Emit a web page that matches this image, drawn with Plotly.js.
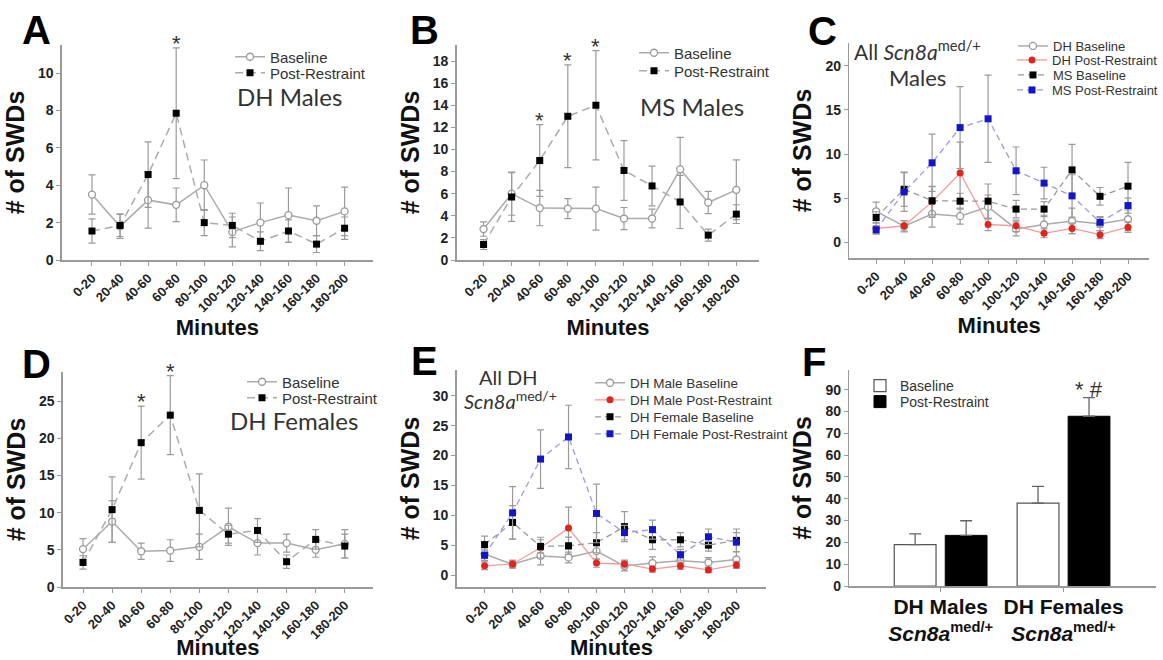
<!DOCTYPE html>
<html><head><meta charset="utf-8">
<script src="https://cdn.plot.ly/plotly-3.0.1.min.js"></script>
<style>body{margin:0;background:#fff}#chart{width:1163px;height:660px}</style>
</head><body><div id="chart"></div>
<script>
// ---------- DATA ----------
const cats = ['0-20','20-40','40-60','60-80','80-100','100-120','120-140','140-160','160-180','180-200'];

// A: DH Males
const dhMaleBase    = [3.5, 1.8, 3.2, 2.95, 4.0, 1.5, 2.0, 2.4, 2.1, 2.6];
const dhMaleBaseErr = [1.05, 0.65, 1.5, 0.9, 1.35, 0.8, 1.05, 1.45, 0.8, 1.3];
const dhMalePost    = [1.55, 1.85, 4.57, 7.85, 2.0, 1.85, 1.0, 1.55, 0.85, 1.7];
const dhMalePostErr = [0.65, 0.6, 1.75, 3.5, 0.7, 0.65, 0.5, 0.6, 0.45, 0.6];

// B: MS Males
const msMaleBase    = [2.8, 6.0, 4.7, 4.65, 4.65, 3.75, 3.75, 8.2, 5.2, 6.35];
const msMaleBaseErr = [0.65, 1.95, 1.6, 0.9, 1.95, 1.0, 0.85, 2.9, 1.0, 2.7];
const msMalePost    = [1.4, 5.7, 9.0, 13.0, 14.0, 8.1, 6.7, 5.25, 2.25, 4.15];
const msMalePostErr = [0.45, 2.2, 3.25, 4.65, 4.95, 2.7, 1.8, 2.4, 0.55, 0.85];

// D: DH Females
const dhFemBase    = [5.1, 8.8, 4.8, 4.9, 5.4, 8.1, 5.9, 5.9, 5.0, 5.8];
const dhFemBaseErr = [1.4, 2.8, 1.1, 1.45, 1.7, 2.5, 1.6, 1.2, 1.0, 1.9];
const dhFemPost    = [3.3, 10.4, 19.4, 23.1, 10.3, 7.1, 7.6, 3.4, 6.4, 5.5];
const dhFemPostErr = [0.9, 4.4, 4.9, 5.3, 4.9, 1.2, 1.6, 0.9, 1.3, 1.6];

// F: totals
const groups   = ['DH Males', 'DH Females'];
const totBase    = [19.0, 38.0];
const totBaseErr = [4.9, 7.7];
const totPost    = [23.2, 77.8];
const totPostErr = [6.7, 8.5];

// significance markers (category index)
const starsA = [3];
const starsB = [2, 3, 4];
const starsD = [2, 3];

// ---------- LAYOUT HELPERS ----------
const W = 1163, H = 660;
const xd = (l, r) => [l / W, r / W];
const yd = (t, b) => [1 - b / H, 1 - t / H];
const px = v => v / W, py = v => 1 - v / H;

const AX = '#9a9a9a';
const tickFont = {family: 'Liberation Sans, Arial, sans-serif', size: 13, color: '#222', weight: 'bold'};
const titleFont = {family: 'Liberation Sans, Arial, sans-serif', size: 22, color: '#111', weight: 'bold'};
const yTitleFont = {family: 'Liberation Sans, Arial, sans-serif', size: 25, color: '#111', weight: 'bold'};

function xAxisCat(dom, range, anchor) {
  return {domain: dom, range: range, anchor: anchor, type: 'linear',
    tickvals: cats.map((c, i) => i), ticktext: cats, tickangle: -45,
    showline: true, linecolor: AX, linewidth: 1.5, ticks: 'outside', ticklen: 4, tickcolor: AX,
    showgrid: false, zeroline: false, tickfont: tickFont,
    title: {text: 'Minutes', font: titleFont, standoff: 4}};
}
function yAxis(dom, range, dtick, anchor) {
  return {domain: dom, range: range, anchor: anchor, dtick: dtick, tick0: 0,
    showline: true, linecolor: AX, linewidth: 1.5, ticks: 'outside', ticklen: 4, tickcolor: AX,
    showgrid: false, zeroline: false, tickfont: Object.assign({}, tickFont, {size: 14}),
    title: {text: '# of SWDs', font: yTitleFont, standoff: 6}};
}

// ---------- TRACE STYLES ----------
const sBase = {line: {color: '#ababab', width: 1.5}, marker: {symbol: 'circle', size: 7, color: '#fff', line: {color: '#999', width: 1.3}}};
const sPost = {line: {color: '#ababab', width: 1.5, dash: '8px,5px'}, marker: {symbol: 'square', size: 7, color: '#000', line: {width: 0}}};
const sRed  = {line: {color: '#f29a9a', width: 1.3}, marker: {symbol: 'circle', size: 7, color: '#e3241c', line: {width: 0}}};
const sBlk  = {line: {color: '#9a9a9a', width: 1.3, dash: '6px,4px'}, marker: {symbol: 'square', size: 7, color: '#000', line: {width: 0}}};
const sBlue = {line: {color: '#9a9ae8', width: 1.3, dash: '6px,4px'}, marker: {symbol: 'square', size: 7, color: '#1414c8', line: {width: 0}}};

function tr(xa, ya, y, err, st, name, leg) {
  return {type: 'scatter', mode: 'lines+markers', xaxis: xa, yaxis: ya,
    x: cats.map((c, i) => i), y: y, name: name, legend: leg,
    line: st.line, marker: st.marker, cliponaxis: false,
    error_y: {type: 'data', array: err, visible: true, color: '#9a9a9a', thickness: 1.2, width: 3.5}};
}

const data = [
  // A
  tr('x', 'y', dhMaleBase, dhMaleBaseErr, sBase, 'Baseline', 'legend'),
  tr('x', 'y', dhMalePost, dhMalePostErr, sPost, 'Post-Restraint', 'legend2'),
  // B
  tr('x2', 'y2', msMaleBase, msMaleBaseErr, sBase, 'Baseline', 'legend3'),
  tr('x2', 'y2', msMalePost, msMalePostErr, sPost, 'Post-Restraint', 'legend4'),
  // C
  tr('x3', 'y3', dhMaleBase, dhMaleBaseErr, sBase, 'DH Baseline', 'legend5'),
  tr('x3', 'y3', dhMalePost, dhMalePostErr, sRed, 'DH Post-Restraint', 'legend6'),
  tr('x3', 'y3', msMaleBase, msMaleBaseErr, sBlk, 'MS Baseline', 'legend7'),
  tr('x3', 'y3', msMalePost, msMalePostErr, sBlue, 'MS Post-Restraint', 'legend8'),
  // D
  tr('x4', 'y4', dhFemBase, dhFemBaseErr, sBase, 'Baseline', 'legend9'),
  tr('x4', 'y4', dhFemPost, dhFemPostErr, sPost, 'Post-Restraint', 'legend10'),
  // E
  tr('x5', 'y5', dhMaleBase, dhMaleBaseErr, sBase, 'DH Male Baseline', 'legend11'),
  tr('x5', 'y5', dhMalePost, dhMalePostErr, sRed, 'DH Male Post-Restraint', 'legend12'),
  tr('x5', 'y5', dhFemBase, dhFemBaseErr, sBlk, 'DH Female Baseline', 'legend13'),
  tr('x5', 'y5', dhFemPost, dhFemPostErr, sBlue, 'DH Female Post-Restraint', 'legend14'),
  // F
  {type: 'bar', xaxis: 'x6', yaxis: 'y6', x: groups.map((g, i) => i), y: totBase, name: 'Baseline', legend: 'legend15',
   width: 0.34, offset: -0.378, marker: {color: '#fff', line: {color: '#555', width: 1.2}},
   error_y: {type: 'data', symmetric: false, array: totBaseErr, arrayminus: totBaseErr.map(() => 0), color: '#666', thickness: 1.3, width: 6}},
  {type: 'bar', xaxis: 'x6', yaxis: 'y6', x: groups.map((g, i) => i), y: totPost, name: 'Post-Restraint', legend: 'legend16',
   width: 0.34, offset: 0.037, marker: {color: '#000', line: {color: '#000', width: 1}},
   error_y: {type: 'data', symmetric: false, array: totPostErr, arrayminus: totPostErr.map(() => 0), color: '#666', thickness: 1.3, width: 6}}
];

// ---------- LEGENDS ----------
function leg(x, yc, size) {
  return {x: px(x), y: py(yc), xanchor: 'left', yanchor: 'middle', bgcolor: 'rgba(0,0,0,0)',
    borderwidth: 0, font: {family: 'Liberation Sans, Arial, sans-serif', size: size, color: '#333'}};
}

// ---------- ANNOTATIONS ----------
const ann = [];
const letterFont = {family: 'Liberation Sans, Arial, sans-serif', size: 40, color: '#000', weight: 'bold'};
[['A', 37, 30], ['B', 425, 30], ['C', 823, 31], ['D', 37, 364], ['E', 425, 361], ['F', 815, 362]].forEach(l => {
  ann.push({text: l[0], xref: 'paper', yref: 'paper', x: px(l[1]), y: py(l[2]), xanchor: 'center', yanchor: 'middle', showarrow: false, font: letterFont});
});
const labFont = {family: 'Lato, Open Sans, sans-serif', size: 24, color: '#333'};
function lab(t, x, y, size) {
  ann.push({text: t, xref: 'paper', yref: 'paper', x: px(x), y: py(y), xanchor: 'center', yanchor: 'middle', showarrow: false,
    font: Object.assign({}, labFont, size ? {size: size} : {})});
}
lab('DH Males', 290, 96);
lab('MS Males', 693, 106);
lab('All <i>Scn8a</i><sup>med/+</sup>', 918, 50, 21);
lab('Males', 918, 78, 22);
lab('DH Females', 294, 420);
lab('All DH', 509, 377, 20);
lab('<i>Scn8a</i><sup>med/+</sup>', 511, 400, 20);

const starFont = {family: 'Liberation Sans, Arial, sans-serif', size: 22, color: '#333'};
function stars(list, mean, err, xr, yr) {
  list.forEach(i => ann.push({text: '*', xref: xr, yref: yr, x: i, y: mean[i] + err[i], xanchor: 'center', yanchor: 'bottom',
    yshift: -10, showarrow: false, font: starFont}));
}
stars(starsA, dhMalePost, dhMalePostErr, 'x', 'y');
stars(starsB, msMalePost, msMalePostErr, 'x2', 'y2');
stars(starsD, dhFemPost, dhFemPostErr, 'x4', 'y4');
ann.push({text: '* #', xref: 'x6', yref: 'y6', x: 1 + 0.037 + 0.17, y: totPost[1] + totPostErr[1], xanchor: 'center', yanchor: 'bottom',
  yshift: -6, showarrow: false, font: starFont});

const layout = {
  width: W, height: H, margin: {l: 0, r: 0, t: 0, b: 0},
  paper_bgcolor: '#fff', plot_bgcolor: 'rgba(0,0,0,0)',
  font: {family: 'Liberation Sans, Arial, sans-serif'},
  showlegend: true, bargap: 0, barmode: 'overlay',
  xaxis: xAxisCat(xd(62, 373), [-1.07, 10.0], 'y'),
  yaxis: yAxis(yd(45, 260), [0, 11.5], 2, 'x'),
  xaxis2: xAxisCat(xd(457, 760), [-0.96, 9.82], 'y2'),
  yaxis2: yAxis(yd(45, 260), [0, 19.45], 2, 'x2'),
  xaxis3: xAxisCat(xd(850, 1150), [-0.96, 9.75], 'y3'),
  yaxis3: yAxis(yd(43, 258), [-1.8, 22.6], 5, 'x3'),
  xaxis4: xAxisCat(xd(63, 373), [-0.69, 9.96], 'y4'),
  yaxis4: yAxis(yd(372, 587), [0, 28.9], 5, 'x4'),
  xaxis5: xAxisCat(xd(457, 767), [-1.0, 10.07], 'y5'),
  yaxis5: yAxis(yd(370, 587), [-2.0, 34.3], 5, 'x5'),
  xaxis6: {domain: xd(850, 1157), range: [-0.744, 1.752], anchor: 'y6', type: 'linear',
    tickvals: groups.map((g, i) => i),
    ticktext: groups.map(g => '<b>' + g + '</b><br><b><i>Scn8a</i><sup>med/+</sup></b>'),
    showline: true, linecolor: AX, linewidth: 1.5, ticks: 'outside', ticklen: 4, tickcolor: AX,
    ticklabelstandoff: -3,
    showgrid: false, zeroline: false, tickfont: {family: 'Liberation Sans, Arial, sans-serif', size: 21, color: '#111'}},
  yaxis6: yAxis(yd(370, 586), [0, 99], 10, 'x6'),
  legend:   leg(230, 57, 15),
  legend2:  leg(230, 73, 15),
  legend3:  leg(634, 53, 15),
  legend4:  leg(634, 71, 15),
  legend5:  leg(1013, 46, 13),
  legend6:  leg(1013, 60, 13),
  legend7:  leg(1013, 75, 13),
  legend8:  leg(1013, 90, 13),
  legend9:  leg(242, 382, 15),
  legend10: leg(242, 398, 15),
  legend11: leg(590, 383, 13.5),
  legend12: leg(590, 400, 13.5),
  legend13: leg(590, 417, 13.5),
  legend14: leg(590, 434, 13.5),
  legend15: leg(860, 386, 14),
  legend16: leg(860, 402, 14),
  annotations: ann
};

Plotly.newPlot('chart', data, layout, {displayModeBar: false, staticPlot: true});
</script>
</body></html>
